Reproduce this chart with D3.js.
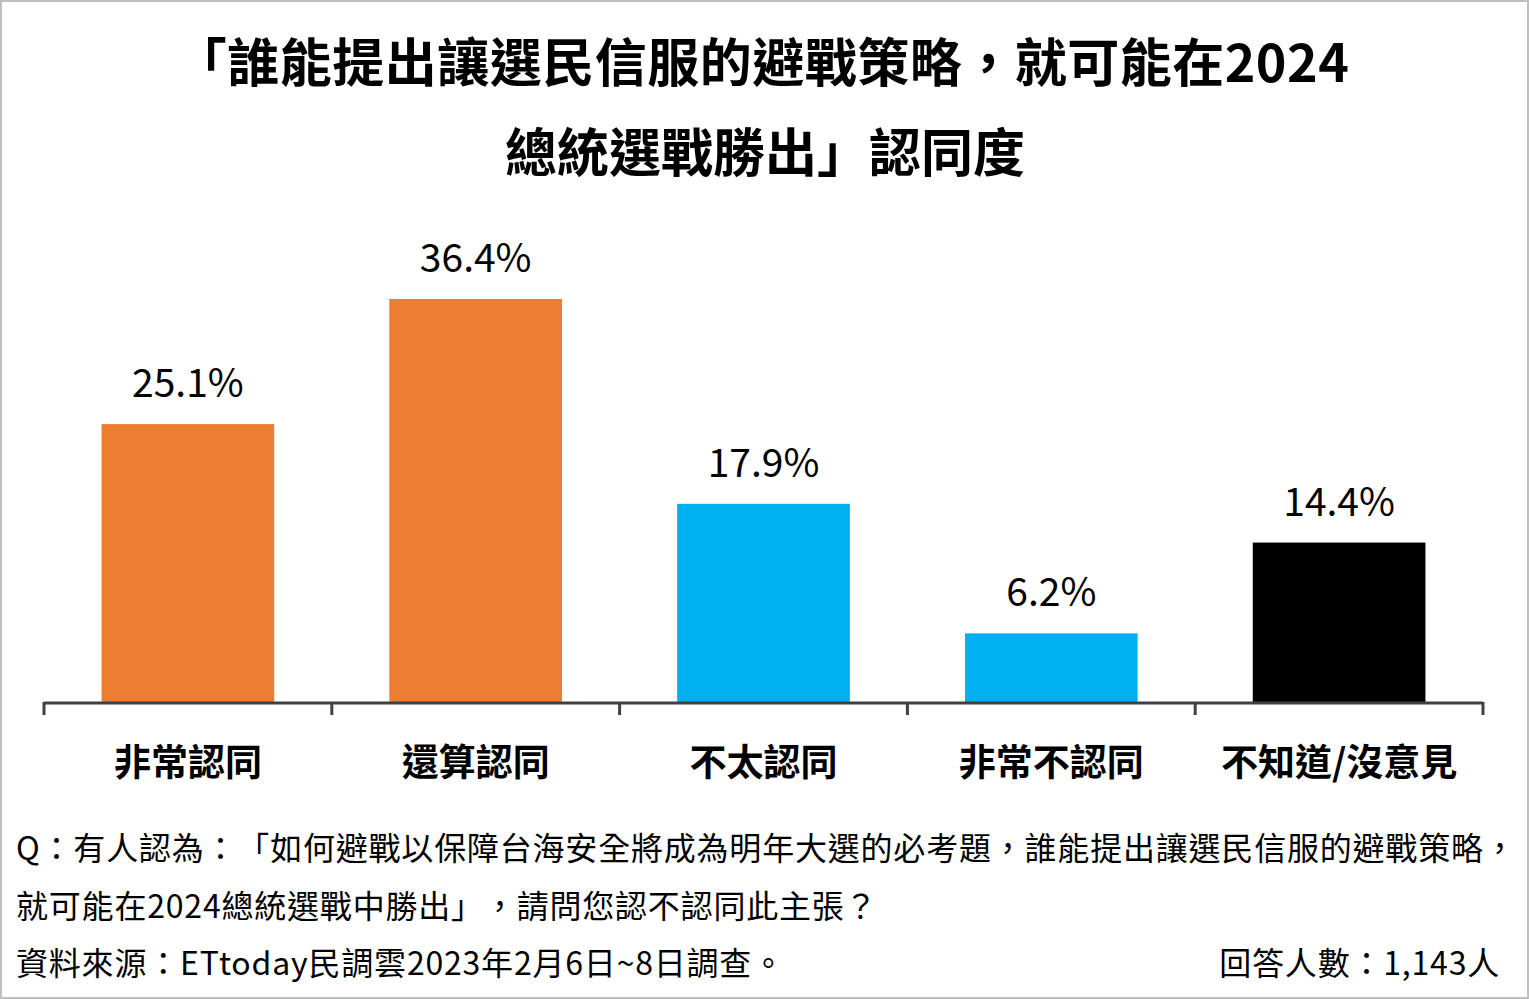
<!DOCTYPE html>
<html><head><meta charset="utf-8">
<script src="https://cdn.jsdelivr.net/npm/d3@7"></script>
<style>
html,body{margin:0;padding:0;background:#fff;}
svg{display:block;}
text{font-family:"Noto Sans CJK TC","Noto Sans CJK SC","Noto Sans",sans-serif;text-spacing-trim:space-all;}
</style></head>
<body>
<script>
const categories = ["非常認同","還算認同","不太認同","非常不認同","不知道/沒意見"];
const values = [25.1, 36.4, 17.9, 6.2, 14.4];
const colors = ["#ED7D31","#ED7D31","#00B0F0","#00B0F0","#000000"];
const titleLines = ["「誰能提出讓選民信服的避戰策略，就可能在2024","總統選戰勝出」認同度"];
const notes = ["Q：有人認為：「如何避戰以保障台海安全將成為明年大選的必考題，誰能提出讓選民信服的避戰策略，",
               "就可能在2024總統選戰中勝出」，請問您認不認同此主張？",
               "資料來源：ETtoday民調雲2023年2月6日~8日調查。"];
const sampleNote = "回答人數：1,143人";

const W = 1529, H = 999;
const svg = d3.select("body").append("svg").attr("width", W).attr("height", H);
svg.append("rect").attr("x",1).attr("y",1).attr("width",W-2).attr("height",H-2)
  .attr("fill","#fff").attr("stroke","#BFBFBF").attr("stroke-width",2);

const x = d3.scaleBand().domain(categories).range([44, 1483]).paddingInner(0.4).paddingOuter(0.2);
const y = d3.scaleLinear().domain([0, 36.4]).range([702, 299]);

svg.append("g").selectAll("text").data(titleLines).join("text")
  .attr("x", (d,i)=> i===0 ? 762 : 765).attr("y", (d,i)=> 82 + i*90)
  .attr("text-anchor","middle").attr("font-size",52).attr("font-weight","bold").attr("fill","#000")
  .attr("letter-spacing", (d,i)=> i===0 ? 0.5 : 0)
  .text(d=>d);

svg.append("g").selectAll("rect").data(values).join("rect")
  .attr("x",(d,i)=>x(categories[i])).attr("width",x.bandwidth())
  .attr("y",d=>y(d)).attr("height",d=>y(0)-y(d))
  .attr("fill",(d,i)=>colors[i]);

svg.append("g").selectAll("text").data(values).join("text")
  .attr("x",(d,i)=>x(categories[i])+x.bandwidth()/2).attr("y",d=>y(d)-27)
  .attr("text-anchor","middle").attr("font-size",39).attr("fill","#000")
  .text(d=>d.toFixed(1)+"%");

// axis with ticks at band boundaries
const axisG = svg.append("g");
axisG.append("line").attr("x1",44).attr("x2",1483).attr("y1",y(0)+1).attr("y2",y(0)+1)
  .attr("stroke","#404040").attr("stroke-width",3);
const boundaries = categories.map(c=>x(c)-x.step()*x.paddingInner()/2).concat([1483]);
boundaries[0] = 44;
axisG.selectAll("line.tick").data(boundaries).join("line").attr("class","tick")
  .attr("x1",d=>d).attr("x2",d=>d).attr("y1",y(0)).attr("y2",y(0)+13)
  .attr("stroke","#404040").attr("stroke-width",3);

axisG.selectAll("text").data(categories).join("text")
  .attr("x",d=>x(d)+x.bandwidth()/2).attr("y",776)
  .attr("text-anchor","middle").attr("font-size",37).attr("font-weight","bold").attr("fill","#000")
  .text(d=>d);

svg.append("g").selectAll("text").data(notes).join("text")
  .attr("x",16).attr("y",(d,i)=>860+i*57.5)
  .attr("font-size",32).attr("letter-spacing",0.8).attr("fill","#000").text(d=>d);
svg.append("text").attr("x",1500).attr("y",975).attr("text-anchor","end")
  .attr("font-size",32).attr("letter-spacing",0.8).attr("fill","#000").text(sampleNote);
</script>
</body></html>
